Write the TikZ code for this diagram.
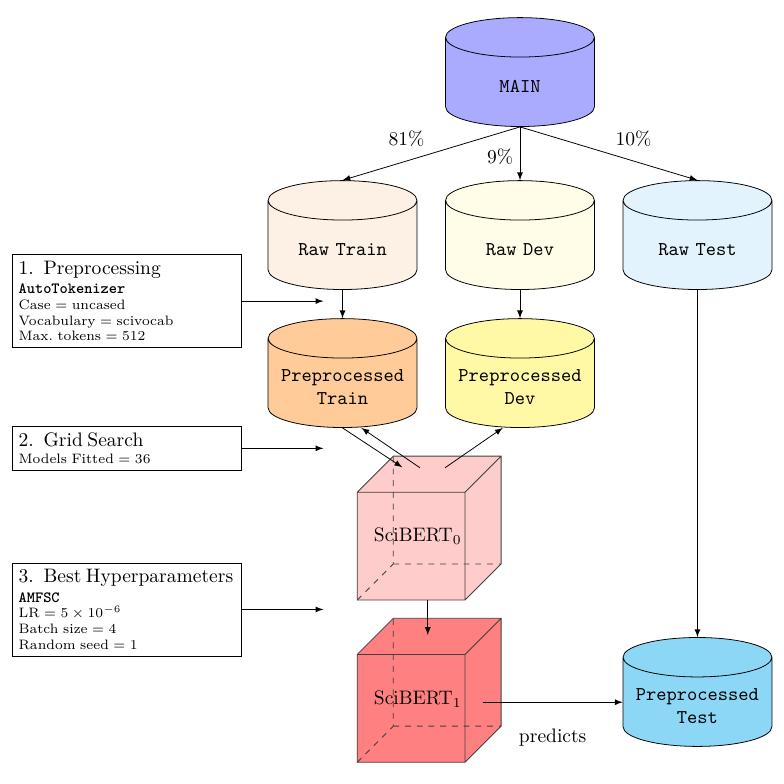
\documentclass[tikz,border=0pt]{standalone}
\usepackage{amsmath}
\usetikzlibrary{
arrows.meta,
calc,
positioning,
shapes.geometric
}
\tikzset{>=latex}

\definecolor{mainblue}{HTML}{AAAAFF}
\definecolor{rawtrain}{HTML}{FDF0E4}
\definecolor{rawdev}{HTML}{FFFDE8}
\definecolor{rawtest}{HTML}{E2F3FD}
\definecolor{preptrain}{HTML}{FFCC99}
\definecolor{prepdev}{HTML}{FFF9A6}
\definecolor{preptest}{HTML}{8DD7F6}
\definecolor{cubeA}{HTML}{FFCCCC}
\definecolor{cubeB}{HTML}{FF8080}

\tikzset{
	dataset/.style={cylinder, shape border rotate=90, aspect=0.28, draw, text width=2.3cm,
		minimum width=2.68cm, minimum height=1.96cm, font=\ttfamily, align=center},
	stepbox/.style={draw, text width=3.9cm, align=left, anchor=east, font=\scriptsize}
}

\begin{document}
\begin{tikzpicture}[node distance=1cm]
	\useasboundingbox (0,0) rectangle (14.112,-14.112);

	% datasets
	\node[dataset, fill=mainblue, anchor=north] (main) at (9.36,-0.31) {MAIN};
	\node[dataset, fill=rawdev, below=0.96cm of main] (rawdev) {Raw Dev};
	\node[dataset, fill=rawtrain, left=0.5cm of rawdev] (rawtrain) {Raw Train};
	\node[dataset, fill=rawtest, right=0.5cm of rawdev] (rawtest) {Raw Test};
	\node[dataset, fill=preptrain, below=0.51cm of rawtrain] (preptrain) {Preprocessed\\Train};
	\node[dataset, fill=prepdev, below=0.51cm of rawdev] (prepdev) {Preprocessed\\Dev};
	\node[dataset, fill=preptest, below=6.25cm of rawtest] (preptest) {Preprocessed\\Test};

	\draw[->] (main.south) -- node[above left] {81\%} (rawtrain.north);
	\draw[->] (main.south) -- node[pos=0.55, left] {9\%} (rawdev.north);
	\draw[->] (main.south) -- node[above right] {10\%} (rawtest.north);
	\draw[->] (rawtrain) -- (preptrain);
	\draw[->] (rawdev) -- (prepdev);
	\draw[->] (rawtest) -- (preptest);

	% models
	\foreach \cy/\cfill/\ci in {-10.80/cubeA/0, -13.72/cubeB/1} {
		\begin{scope}[shift={(6.43,\cy)}]
			\fill[\cfill] (0,0) -- (1.94,0) -- (2.59,0.65) -- (2.59,2.59) -- (0.65,2.59) -- (0,1.94) -- cycle;
			\draw[black!75, dashed] (0,0) -- (0.65,0.65) -- (0.65,2.59) (0.65,0.65) -- (2.59,0.65);
			\draw[black!75] (0,0) rectangle (1.94,1.94) (0,1.94) -- (0.65,2.59) -- (2.59,2.59) -- (2.59,0.65) -- (1.94,0)
				(1.94,1.94) -- (2.59,2.59);
			\node (sci\ci) at (1.09,1.14) {$\mathrm{SciBERT}_\ci$};
		\end{scope}
	}
	\coordinate (c0in) at (7.24,-8.41);
	\coordinate (c0back) at (7.56,-8.42);
	\coordinate (c0dev) at (8.01,-8.42);
	\coordinate (c0bot) at (7.70,-10.80);
	\coordinate (c1top) at (7.70,-11.43);
	\coordinate (c1out) at (8.69,-12.64);

	\draw[->] (preptrain.south) -- (c0in);
	\draw[->] (c0back) -- ($(preptrain.south)+(0.34,0)$);
	\draw[->] (c0dev) -- ($(prepdev.south)+(-0.31,0)$);
	\draw[->] (c0bot) -- (c1top);
	\draw[->] (c1out) -- node[below=0.35cm] {predicts} (c1out -| preptest.west);

	% steps
	\node[stepbox] (step1) at (4.36,-5.42) {{\normalsize 1.\enspace Preprocessing}\\[2pt]
		{\footnotesize\ttfamily\bfseries AutoTokenizer}\\
		Case $=$ uncased\\
		Vocabulary $=$ scivocab\\
		Max.~tokens $=$ 512};
	\node[stepbox] (step2) at (4.36,-8.07) {{\normalsize 2.\enspace Grid Search}\\[1pt]
		Models Fitted $=$ 36};
	\node[stepbox] (step3) at (4.36,-10.97) {{\normalsize 3.\enspace Best Hyperparameters}\\[2pt]
		{\footnotesize\ttfamily\bfseries AMFSC}\\
		LR $=5\times10^{-6}$\\
		Batch size $=$ 4\\
		Random seed $=$ 1};
	\coordinate[right=1.46cm of step1.east] (s1end);
	\coordinate[right=1.46cm of step2.east] (s2end);
	\coordinate[right=1.46cm of step3.east] (s3end);
	\draw[->] (step1) -- (s1end);
	\draw[->] (step2) -- (s2end);
	\draw[->] (step3) -- (s3end);
\end{tikzpicture}
\end{document}
